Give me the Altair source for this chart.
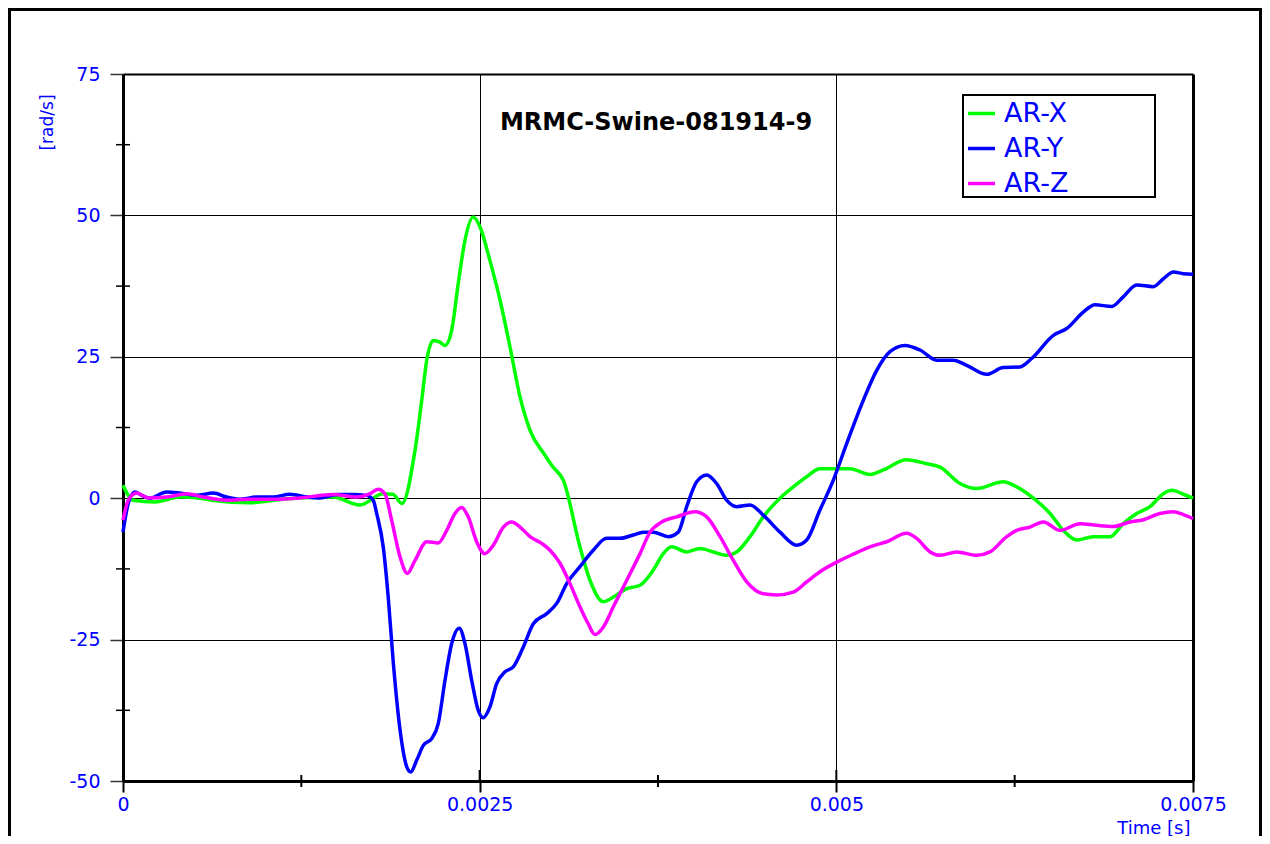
import altair as alt
import pandas as pd

title_text = "MRMC-Swine-081914-9"
series_names = ["AR-X", "AR-Y", "AR-Z"]
series_colors = ["#00ff00", "#0000ff", "#ff00ff"]

# time in milliseconds, values in rad/s
arx_t_ms = [0, 0.070, 0.224, 0.400, 0.540, 0.631, 0.890, 1.150, 1.472, 1.661,
            1.822, 1.892, 1.955, 2.047, 2.094, 2.129, 2.175, 2.222, 2.257, 2.304,
            2.350, 2.397, 2.455, 2.502, 2.572, 2.643, 2.713, 2.783, 2.853, 2.958,
            3.014, 3.086, 3.203, 3.273, 3.367, 3.460, 3.531, 3.624, 3.717, 3.787,
            3.846, 3.951, 4.044, 4.138, 4.231, 4.302, 4.395, 4.488, 4.605, 4.698,
            4.792, 4.885, 4.979, 5.096, 5.236, 5.329, 5.493, 5.633, 5.727, 5.867,
            5.984, 6.170, 6.264, 6.381, 6.498, 6.591, 6.685, 6.801, 6.918, 7.011,
            7.105, 7.198, 7.292, 7.351, 7.432, 7.500]
arx_v = [2.3, -0.35, -0.65, 0.2, 0.0, -0.4, -0.8, -0.1, 0.2, -1.2,
         0.8, 0.7, -0.95, 8.5, 17.3, 24.4, 27.9, 27.6, 27.0, 29.7,
         38.0, 45.6, 49.7, 48.0, 42.0, 35.0, 26.7, 17.9, 12.0, 7.6,
         5.5, 3.2, -8.6, -14.5, -18.3, -17.1, -16.0, -15.4, -12.7, -9.8,
         -8.6, -9.5, -8.9, -9.5, -10.1, -9.5, -6.8, -3.3, 0.0, 2.0,
         3.8, 5.2, 5.2, 5.2, 4.2, 5.0, 6.8, 6.1, 5.5, 2.6,
         1.7, 2.9, 2.0, 0.0, -2.7, -5.7, -7.4, -6.8, -6.8, -4.5,
         -2.7, -1.5, 0.8, 1.4, 0.7, 0.0]

ary_t_ms = [0, 0.037, 0.084, 0.131, 0.189, 0.306, 0.400, 0.517, 0.633, 0.727,
            0.820, 0.937, 1.053, 1.170, 1.288, 1.381, 1.498, 1.614, 1.708, 1.754,
            1.778, 1.824, 1.859, 1.895, 1.942, 1.989, 2.017, 2.059, 2.105, 2.164,
            2.210, 2.257, 2.304, 2.357, 2.397, 2.444, 2.490, 2.525, 2.572, 2.619,
            2.678, 2.736, 2.806, 2.876, 2.970, 3.040, 3.110, 3.203, 3.296, 3.390,
            3.484, 3.577, 3.647, 3.717, 3.822, 3.892, 3.951, 4.021, 4.091, 4.161,
            4.231, 4.302, 4.395, 4.488, 4.605, 4.722, 4.792, 4.885, 4.979, 5.073,
            5.189, 5.283, 5.376, 5.481, 5.586, 5.703, 5.820, 5.914, 6.054, 6.170,
            6.287, 6.369, 6.521, 6.615, 6.731, 6.813, 6.930, 7.011, 7.105, 7.222,
            7.292, 7.362, 7.432, 7.500]
ary_v = [-6.0, -0.9, 1.1, 0.5, 0.0, 1.1, 0.9, 0.5, 0.9, 0.2,
         -0.2, 0.2, 0.2, 0.7, 0.2, 0.05, 0.65, 0.65, 0.5, -0.35,
         -2.7, -8.6, -17.5, -29.2, -41.0, -47.5, -48.4, -46.3, -43.7, -42.5,
         -39.8, -32.2, -25.7, -23.0, -25.7, -32.2, -37.5, -38.8, -36.9, -32.8,
         -30.7, -29.8, -26.3, -22.2, -20.4, -18.6, -15.1, -12.1, -9.2, -7.1,
         -7.1, -6.5, -6.0, -6.0, -6.8, -6.0, -1.5, 2.9, 4.1, 2.6,
         -0.35, -1.5, -1.2, -3.0, -6.0, -8.3, -7.4, -2.1, 3.2, 9.7,
         17.3, 22.6, 25.9, 27.0, 26.2, 24.4, 24.4, 23.5, 21.9, 23.1,
         23.2, 24.7, 28.8, 30.0, 32.9, 34.2, 33.9, 35.6, 37.7, 37.4,
         38.8, 40.0, 39.7, 39.6]

arz_t_ms = [0, 0.037, 0.096, 0.177, 0.306, 0.447, 0.563, 0.727, 0.890, 1.077,
            1.241, 1.474, 1.638, 1.731, 1.789, 1.836, 1.883, 1.942, 1.993, 2.047,
            2.129, 2.210, 2.269, 2.327, 2.374, 2.420, 2.479, 2.537, 2.596, 2.666,
            2.724, 2.783, 2.853, 2.935, 2.993, 3.063, 3.133, 3.203, 3.261, 3.308,
            3.366, 3.437, 3.531, 3.624, 3.694, 3.776, 3.881, 4.009, 4.091, 4.185,
            4.278, 4.372, 4.488, 4.582, 4.698, 4.792, 4.885, 5.003, 5.119, 5.236,
            5.353, 5.493, 5.563, 5.657, 5.727, 5.844, 5.984, 6.077, 6.194, 6.264,
            6.357, 6.451, 6.568, 6.708, 6.825, 6.941, 7.058, 7.152, 7.268, 7.362,
            7.432, 7.500]
arz_v = [-3.9, -0.35, 0.9, 0.05, 0.2, 0.8, 0.2, -0.35, -0.2, -0.2,
         0.05, 0.65, 0.2, 0.8, 1.6, 0.8, -3.9, -10.4, -13.3, -11.0,
         -7.7, -7.9, -5.7, -2.7, -1.65, -3.3, -7.7, -9.8, -8.3, -5.1,
         -4.2, -5.1, -6.8, -8.0, -9.2, -11.5, -15.1, -19.2, -22.2, -24.1,
         -22.8, -19.2, -14.5, -9.8, -6.0, -4.2, -3.3, -2.4, -3.3, -6.8,
         -11.0, -14.8, -16.9, -17.1, -16.6, -14.8, -13.0, -11.3, -9.9, -8.6,
         -7.7, -6.2, -7.1, -9.5, -10.1, -9.5, -10.1, -9.5, -6.8, -5.7,
         -5.1, -4.2, -5.7, -4.5, -4.8, -5.0, -4.2, -3.8, -2.7, -2.4,
         -2.9, -3.6]

x_domain = [0, 0.0075]
y_domain = [-50, 75]
x_major_ticks = [0, 0.0025, 0.005, 0.0075]
x_minor_ticks = [0.00125, 0.00375, 0.00625]
y_major_ticks = [-50, -25, 0, 25, 50, 75]
y_minor_ticks = [-37.5, -12.5, 12.5, 37.5, 62.5]

BLUE_TEXT = "#0000ff"
FONT = "DejaVu Sans"

frames = []
for name, ts, vs in [("AR-X", arx_t_ms, arx_v), ("AR-Y", ary_t_ms, ary_v), ("AR-Z", arz_t_ms, arz_v)]:
    frames.append(pd.DataFrame({"t": [t / 1000.0 for t in ts], "v": vs, "series": name}))
df = pd.concat(frames, ignore_index=True)

xscale = alt.Scale(domain=x_domain, nice=False, zero=False)
yscale = alt.Scale(domain=y_domain, nice=False, zero=False)

x_axis = alt.Axis(
    values=x_major_ticks, format=".4~g", title="Time [s]",
    titleX=1067, titleY=52, titleAlign="right", titleBaseline="alphabetic",
    titleFont=FONT, titleFontSize=18, titleFontWeight="normal", titleColor=BLUE_TEXT,
    labelFont=FONT, labelFontSize=19, labelColor=BLUE_TEXT, labelPadding=3,
    labelFlush=False, labelOverlap=False,
    tickSize=11, tickWidth=2, tickColor="black",
    domainColor="black", domainWidth=3,
    grid=True, gridColor="black", gridOpacity=1,
    gridWidth={"condition": {"test": "datum.value > 0.007", "value": 3}, "value": 1},
)
y_axis = alt.Axis(
    values=y_major_ticks, title="[rad/s]",
    labelExpr="replace(datum.label, '\u2212', '-')",
    titleX=-76, titleY=48, titleAngle=270, titleAlign="center", titleBaseline="middle",
    titleFont=FONT, titleFontSize=17, titleFontWeight="normal", titleColor=BLUE_TEXT,
    labelFont=FONT, labelFontSize=19, labelColor=BLUE_TEXT, labelPadding=10,
    labelFlush=False, labelOverlap=False,
    tickSize=13, tickWidth=1.5, tickColor="#333333",
    domainColor="black", domainWidth=3,
    grid=True, gridColor="black", gridOpacity=1,
    gridWidth={"condition": {"test": "datum.value > 70", "value": 2}, "value": 1},
)

legend = alt.Legend(
    title=None, orient="none", legendX=840, legendY=21, direction="vertical",
    padding=3,
    symbolType="stroke", symbolSize=729, symbolStrokeWidth=3.5,
    labelFont=FONT, labelFontSize=27, labelColor=BLUE_TEXT, labelOffset=7,
    rowPadding=6, labelLimit=400,
)

lines = alt.Chart(df).mark_line(strokeWidth=3.5, interpolate="monotone").encode(
    x=alt.X("t:Q", scale=xscale, axis=x_axis),
    y=alt.Y("v:Q", scale=yscale, axis=y_axis),
    color=alt.Color("series:N", scale=alt.Scale(domain=series_names, range=series_colors), legend=legend),
)

xmaj_df = pd.DataFrame({"t": x_major_ticks})
xmin_df = pd.DataFrame({"t": x_minor_ticks})
ymin_df = pd.DataFrame({"v": y_minor_ticks})

xmaj_in = alt.Chart(xmaj_df).mark_rule(color="black", strokeWidth=2).encode(
    x=alt.X("t:Q", scale=xscale, axis=x_axis), y=alt.value(696), y2=alt.value(707))
xmin_ticks = alt.Chart(xmin_df).mark_rule(color="black", strokeWidth=2).encode(
    x=alt.X("t:Q", scale=xscale, axis=x_axis), y=alt.value(701), y2=alt.value(713))
ymin_ticks = alt.Chart(ymin_df).mark_rule(color="black", strokeWidth=1.5).encode(
    y=alt.Y("v:Q", scale=yscale, axis=y_axis), x=alt.value(-7), x2=alt.value(7))

one = pd.DataFrame({"a": [0]})
title_mark = alt.Chart(one).mark_text(
    text=title_text, font=FONT, fontSize=24, fontWeight="bold", color="black",
    align="center", baseline="alphabetic").encode(x=alt.value(533), y=alt.value(56))

legend_box = alt.Chart(one).mark_rect(
    fill="white", fillOpacity=0, stroke="black", strokeWidth=2).encode(
    x=alt.value(840), x2=alt.value(1032), y=alt.value(21), y2=alt.value(123))

frame_top = alt.Chart(one).mark_rule(color="black", strokeWidth=3).encode(
    x=alt.value(-115), x2=alt.value(1139), y=alt.value(-64.5))
frame_left = alt.Chart(one).mark_rule(color="black", strokeWidth=3).encode(
    x=alt.value(-113.5), y=alt.value(-66), y2=alt.value(762))
frame_right = alt.Chart(one).mark_rule(color="black", strokeWidth=3).encode(
    x=alt.value(1137.5), y=alt.value(-66), y2=alt.value(762))

chart = alt.layer(
    lines, xmaj_in, xmin_ticks, ymin_ticks, title_mark, legend_box,
    frame_top, frame_left, frame_right
).properties(
    width=1070, height=707,
    padding={"left": 115, "top": 66, "right": 69, "bottom": 55},
    autosize=alt.AutoSizeParams(type="none"),
    background="white",
).configure_view(strokeOpacity=0).configure(font=FONT)

chart.save("out.html", embed_options={"renderer": "svg", "actions": False})
